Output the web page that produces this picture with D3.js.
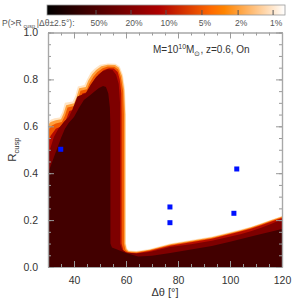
<!DOCTYPE html>
<html>
<head>
<meta charset="utf-8">
<script src="https://cdn.jsdelivr.net/npm/d3@7"></script>
<style>
body { margin: 0; background: #fff; }
svg { display: block; }
text { font-family: "Liberation Sans", Arial, sans-serif; }
</style>
</head>
<body>
<svg id="chart" width="300" height="300"></svg>
<script>
// probability levels shown on the colour bar, and where they sit on it (0..1)
const levelLabels = ['50%', '20%', '10%', '5%', '2%', '1%'];
const levelPos = [0.206, 0.353, 0.5, 0.651, 0.803, 0.95];
// fill colours of the contour bands, from >50% outward
const bandColors = ['#420000', '#7e0000', '#b60c00', '#f05800', '#ffa03c', '#ffe4c4'];

// upper boundary of each filled contour, [dtheta, Rcusp]
const contour1 = [[30,0.615],[31,0.628],[32.5,0.634],[34.5,0.637],[35.5,0.66],[36.5,0.70],[39.5,0.706],[40.5,0.73],[41.5,0.77],[44,0.776],[45,0.80],[46.5,0.83],[48,0.847],[50,0.862],[53,0.868],[56,0.867],[57.6,0.855],[58.8,0.82],[59.6,0.76],[60,0.65],[60,0.1],[60.4,0.079],[61.2,0.07],[64,0.068],[69,0.077],[77,0.1],[85,0.115],[93,0.13],[104,0.16],[108,0.172],[112,0.187],[116,0.203],[120,0.218]];
const contour2 = [[30,0.605],[31,0.618],[33,0.626],[35,0.63],[36,0.655],[37,0.69],[40,0.698],[41,0.725],[42,0.762],[44.5,0.768],[45.5,0.795],[47,0.822],[48.5,0.84],[50.5,0.856],[53,0.862],[55.8,0.861],[57.3,0.85],[58.5,0.815],[59.3,0.755],[59.7,0.65],[59.7,0.1],[60.2,0.076],[61,0.067],[64,0.065],[69,0.074],[77,0.097],[85,0.112],[93,0.127],[104,0.157],[108,0.169],[112,0.184],[116,0.2],[120,0.215]];
const contour5 = [[30,0.58],[31,0.6],[33,0.612],[35.3,0.618],[36.5,0.645],[37.5,0.68],[40.5,0.688],[41.5,0.715],[42.5,0.752],[45,0.758],[46,0.785],[47.5,0.812],[49,0.832],[51,0.848],[53,0.855],[55.5,0.854],[57,0.842],[58,0.81],[58.9,0.75],[59.2,0.65],[59.2,0.1],[59.8,0.073],[60.8,0.064],[64,0.062],[69,0.071],[77,0.094],[85,0.109],[93,0.124],[104,0.154],[108,0.166],[112,0.181],[116,0.197],[120,0.212]];
const contour10 = [[30,0.53],[31,0.56],[33,0.59],[35.8,0.603],[37,0.63],[38.2,0.665],[41,0.675],[42,0.703],[43.2,0.74],[45.5,0.746],[46.5,0.772],[48,0.8],[49.5,0.822],[51.5,0.84],[53.5,0.848],[55.3,0.846],[56.8,0.832],[57.6,0.8],[58.2,0.74],[58.3,0.65],[58.3,0.1],[59,0.07],[60.5,0.061],[64,0.059],[69,0.068],[77,0.091],[85,0.106],[93,0.121],[104,0.151],[108,0.163],[112,0.178],[116,0.194],[120,0.209]];
const contour20 = [[30,0.48],[31,0.51],[32.3,0.555],[34,0.59],[36.2,0.62],[38,0.64],[39.3,0.67],[41.3,0.727],[44.5,0.741],[46.4,0.777],[48.5,0.81],[50.9,0.834],[53,0.843],[54.8,0.84],[56.2,0.82],[57.2,0.78],[57.7,0.7],[57.7,0.1],[58.5,0.075],[60,0.062],[64,0.058],[69,0.064],[77,0.085],[85,0.097],[93,0.112],[104,0.14],[108,0.152],[112,0.167],[116,0.184],[120,0.204]];
const contour50 = [[30,0.40],[31,0.43],[33,0.49],[35,0.55],[36.5,0.59],[38,0.615],[40,0.64],[42,0.68],[43.8,0.712],[46.4,0.735],[48,0.75],[49.6,0.763],[51.2,0.772],[52.3,0.768],[53.2,0.74],[53.8,0.68],[54,0.6],[54,0.1],[54.6,0.083],[60,0.06],[64.7,0.045],[70,0.048],[77,0.06],[85,0.075],[93,0.09],[100,0.108],[110,0.135],[120,0.162]];

// observed lenses
const obsDtheta = [34.9, 76.9, 76.9, 101.5, 102.6];
const obsR = [0.502, 0.256, 0.189, 0.229, 0.418];

const xTicks = [40, 60, 80, 100, 120];
const yTicks = [0, 0.2, 0.4, 0.6, 0.8, 1.0];

const svg = d3.select('#chart');
const margin = { left: 48, right: 18, top: 32.5, bottom: 33 };
const W = 300, H = 300;

const x = d3.scaleLinear().domain([30, 120]).range([margin.left, W - margin.right]);
const y = d3.scaleLinear().domain([0, 1]).range([H - margin.bottom, margin.top]);

// red temperature colour table
const color = d3.scaleLinear()
    .domain([0, 0.47, 0.69, 0.745, 1])
    .range(['#000000', 'rgb(174,0,0)', 'rgb(255,106,0)', 'rgb(255,132,0)', '#ffffff']);

const defs = svg.append('defs');
defs.append('clipPath').attr('id', 'plotclip')
    .append('rect')
    .attr('x', x(30)).attr('y', y(1))
    .attr('width', x(120) - x(30)).attr('height', y(0) - y(1));

// outermost first so inner bands paint over
const contours = [contour1, contour2, contour5, contour10, contour20, contour50];
const contourBand = [5, 4, 3, 2, 1, 0];

const area = d3.area()
    .x(d => x(d[0]))
    .y0(y(0))
    .y1(d => y(d[1]));

const gc = svg.append('g').attr('clip-path', 'url(#plotclip)');
contours.forEach((c, i) => {
    gc.append('path')
        .attr('d', area(c))
        .attr('fill', bandColors[contourBand[i]]);
});

gc.selectAll('rect.obs')
    .data(obsDtheta)
    .join('rect')
    .attr('class', 'obs')
    .attr('x', (d) => x(d) - 2.5)
    .attr('y', (d, i) => y(obsR[i]) - 2.5)
    .attr('width', 5).attr('height', 5)
    .attr('fill', '#0011ff');

// axes, ticks drawn inward
const axisColor = '#a8a8a8';
function styleAxis(g) {
    g.select('.domain').attr('stroke', axisColor).attr('stroke-width', 1.2);
    g.selectAll('.tick line').attr('stroke', '#999');
    g.selectAll('.tick text').attr('fill', '#333').style('font-size', '10.5px')
        .style('font-family', '"Liberation Sans", Arial, sans-serif');
}

svg.append('g').attr('transform', `translate(0,${y(0)})`)
    .call(d3.axisBottom(x).ticks(18).tickSize(-3).tickSizeOuter(0).tickFormat(''))
    .call(styleAxis);
svg.append('g').attr('transform', `translate(0,${y(0)})`)
    .call(d3.axisBottom(x).tickValues(xTicks).tickSize(-6).tickSizeOuter(0).tickPadding(10).tickFormat(d3.format('d')))
    .call(styleAxis);
svg.append('g').attr('transform', `translate(0,${y(1)})`)
    .call(d3.axisTop(x).ticks(18).tickSize(-3).tickSizeOuter(0).tickFormat(''))
    .call(styleAxis);
svg.append('g').attr('transform', `translate(0,${y(1)})`)
    .call(d3.axisTop(x).tickValues(xTicks).tickSize(-6).tickSizeOuter(0).tickFormat(''))
    .call(styleAxis);

svg.append('g').attr('transform', `translate(${x(30)},0)`)
    .call(d3.axisLeft(y).ticks(20).tickSize(-3).tickSizeOuter(0).tickFormat(''))
    .call(styleAxis);
svg.append('g').attr('transform', `translate(${x(30)},0)`)
    .call(d3.axisLeft(y).tickValues(yTicks).tickSize(-6).tickSizeOuter(0).tickPadding(10).tickFormat(d3.format('.1f')))
    .call(styleAxis);
svg.append('g').attr('transform', `translate(${x(120)},0)`)
    .call(d3.axisRight(y).ticks(20).tickSize(-3).tickSizeOuter(0).tickFormat(''))
    .call(styleAxis);
svg.append('g').attr('transform', `translate(${x(120)},0)`)
    .call(d3.axisRight(y).tickValues(yTicks).tickSize(-6).tickSizeOuter(0).tickFormat(''))
    .call(styleAxis);

// axis titles
svg.append('text')
    .attr('x', (x(30) + x(120)) / 2).attr('y', 296)
    .attr('text-anchor', 'middle').attr('fill', '#333')
    .style('font-size', '11px')
    .text('Δθ [°]');

const yt = svg.append('text')
    .attr('transform', `translate(16,${(y(0) + y(1)) / 2}) rotate(-90)`)
    .attr('text-anchor', 'middle').attr('fill', '#333')
    .style('font-size', '11.5px');
yt.append('tspan').text('R');
yt.append('tspan').attr('dy', 3).style('font-size', '7.5px').text('cusp');

// annotation
const ann = svg.append('text')
    .attr('x', 153).attr('y', 53)
    .attr('fill', '#333').style('font-size', '10px');
ann.append('tspan').text('M=10');
ann.append('tspan').attr('dy', -4).style('font-size', '7px').text('10');
ann.append('tspan').attr('dy', 4).text('M');
ann.append('tspan').attr('dy', 2.5).style('font-size', '7px').text('⊙');
ann.append('tspan').attr('dy', -2.5).text(', z=0.6, On');

// colour bar
const cb = d3.scaleLinear().domain([0, 1]).range([47, 285]);
const grad = defs.append('linearGradient').attr('id', 'cbgrad')
    .attr('x1', '0%').attr('x2', '100%').attr('y1', '0%').attr('y2', '0%');
color.domain().forEach(v => {
    grad.append('stop').attr('offset', `${v * 100}%`).attr('stop-color', color(v));
});
svg.append('rect')
    .attr('x', cb(0)).attr('y', 5)
    .attr('width', cb(1) - cb(0)).attr('height', 10)
    .attr('fill', 'url(#cbgrad)')
    .attr('stroke', '#999').attr('stroke-width', 0.8);

svg.append('g').selectAll('line')
    .data(levelPos)
    .join('line')
    .attr('x1', d => cb(d)).attr('x2', d => cb(d))
    .attr('y1', 10).attr('y2', 15)
    .attr('stroke', '#555').attr('stroke-width', 1);

svg.append('g').selectAll('text')
    .data(levelLabels)
    .join('text')
    .attr('x', (d, i) => cb(levelPos[i]) + 3)
    .attr('y', 26)
    .attr('text-anchor', 'middle')
    .attr('fill', '#555')
    .style('font-size', '8.5px')
    .text(d => d);

// colour bar title, pieces laid out one after another
const titleParts = [
    { t: 'P(>R', size: 8.5, dy: 0 },
    { t: 'cusp', size: 5.5, dy: 1.5 },
    { t: '|Δθ±2.5°):', size: 8.5, dy: 0 },
];
let cx = 2;
titleParts.forEach(p => {
    const el = svg.append('text')
        .attr('x', cx).attr('y', 26 + p.dy)
        .attr('fill', '#555').style('font-size', `${p.size}px`)
        .text(p.t);
    cx += el.node().getComputedTextLength() + 1.8;
});
</script>
</body>
</html>
